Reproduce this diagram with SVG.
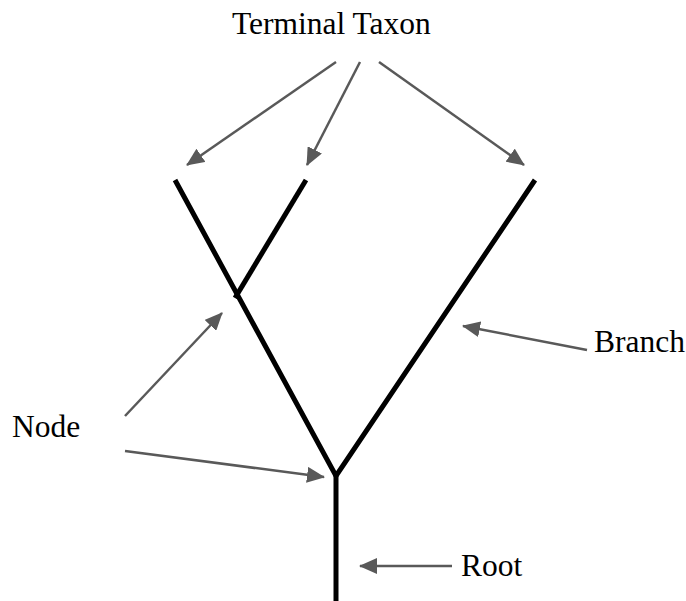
<svg xmlns="http://www.w3.org/2000/svg" width="686" height="601" viewBox="0 0 686 601">
<style>
.tree{stroke:#000;stroke-width:5;fill:none;stroke-linecap:butt;stroke-linejoin:miter}
.arr{stroke:#595959;stroke-width:2.5;fill:none;marker-end:url(#ah)}
</style>
<defs>
<marker id="ah" markerUnits="userSpaceOnUse" markerWidth="18" markerHeight="16" viewBox="0 0 18 16" refX="17" refY="8" orient="auto">
<path d="M0,0 L18,8 L0,16 Z" fill="#595959"/>
</marker>
</defs>
<rect width="686" height="601" fill="#fff"/>
<g id="tree">
<polyline class="tree" points="175,180 336,476 535,180"/>
<line class="tree" x1="336" y1="474" x2="336" y2="601"/>
<line class="tree" x1="235" y1="298" x2="306" y2="180"/>
</g>
<g id="connectors">
<line class="arr" x1="336" y1="62" x2="187" y2="165"/>
<line class="arr" x1="360" y1="62" x2="307" y2="165"/>
<line class="arr" x1="379" y1="62" x2="524" y2="165"/>
<line class="arr" x1="125" y1="416" x2="222" y2="313"/>
<line class="arr" x1="125" y1="451" x2="324" y2="477"/>
<line class="arr" x1="587" y1="350" x2="463" y2="326"/>
<line class="arr" x1="452" y1="566" x2="360" y2="566"/>
</g>
<g id="terminal-taxon"><text x="232" y="34" font-family="Liberation Serif, serif" font-size="31.5" fill="#000">Terminal Taxon</text></g>
<g id="node"><text x="12" y="437" font-family="Liberation Serif, serif" font-size="31.5" fill="#000">Node</text></g>
<g id="branch"><text x="594" y="352" font-family="Liberation Serif, serif" font-size="31.5" fill="#000">Branch</text></g>
<g id="root"><text x="461" y="576" font-family="Liberation Serif, serif" font-size="31.5" fill="#000">Root</text></g>
</svg>
